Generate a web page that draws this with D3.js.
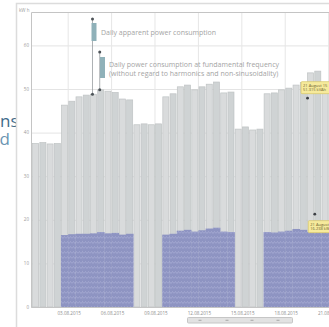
<!DOCTYPE html>
<html>
<head>
<meta charset="utf-8">
<script src="https://cdn.jsdelivr.net/npm/d3@7"></script>
<style>
  html, body { margin: 0; padding: 0; background: #fff; }
  svg { display: block; font-family: "Open Sans", "DejaVu Sans", sans-serif; }
</style>
</head>
<body>
<div id="app"></div>
<script>
// ------------------------------------------------------------
// Data (two bars per day)
// ------------------------------------------------------------
const days = ['01.08.2015', '02.08.2015', '03.08.2015', '04.08.2015', '05.08.2015',
  '06.08.2015', '07.08.2015', '08.08.2015', '09.08.2015', '10.08.2015', '11.08.2015',
  '12.08.2015', '13.08.2015', '14.08.2015', '15.08.2015', '16.08.2015', '17.08.2015',
  '18.08.2015', '19.08.2015', '20.08.2015', '21.08.2015'];

// daily apparent power consumption, kWh
const apparent = [
  37.5, 37.7, 37.4, 37.5,
  46.3, 47.2, 48.2, 48.6, 48.8, 49.8, 49.5, 49.2, 47.7, 47.5,
  41.8, 42.0, 41.8, 42.0,
  48.2, 48.9, 50.5, 50.9, 49.8, 50.5, 51.1, 51.6, 49.1, 49.3,
  40.8, 41.3, 40.6, 40.8,
  48.9, 49.1, 49.8, 50.2, 50.9, 51.5, 53.7, 54.1, 51.2, 51.0
];

// daily consumption at fundamental frequency, kWh (none on weekends)
const fundamental = [
  null, null, null, null,
  16.5, 16.7, 16.8, 16.8, 16.9, 17.2, 16.9, 17.0, 16.6, 16.8,
  null, null, null, null,
  16.6, 16.8, 17.5, 17.7, 17.3, 17.6, 18.0, 18.2, 17.3, 17.2,
  null, null, null, null,
  17.2, 17.1, 17.3, 17.5, 17.9, 17.7, 17.2, 17.4, 17.3, 17.4
];

const yTicks = [0, 10, 20, 30, 40, 50, 60];
const labelDays = ['03.08.2015', '06.08.2015', '09.08.2015', '12.08.2015',
  '15.08.2015', '18.08.2015', '21.08.2015'];

// hover tooltips shown in the screenshot
const tipSlots = [38, 39];
const tipValues = [47.9, 21.3];
const tipLines = [['21 August 15', '51.315 kVAh'], ['21 August 15', '16.238 kWh']];

// ------------------------------------------------------------
// Canvas
// ------------------------------------------------------------
const W = 329, H = 327;
const svg = d3.select('#app').append('svg')
  .attr('width', W).attr('height', H);

// page text cut off at the left edge of the screenshot
svg.append('text').attr('x', 0).attr('y', 127)
  .attr('font-size', 17).attr('fill', '#3f6b89').text('ns');
svg.append('text').attr('x', -0.5).attr('y', 145)
  .attr('font-size', 17).attr('fill', '#6b95b2').text('d');

// outer panel
svg.append('rect')
  .attr('x', 16.5).attr('y', 3.5).attr('width', 400).attr('height', 400)
  .attr('fill', '#fff').attr('stroke', '#dcdcdc').attr('stroke-width', 1.5);

const plotLeft = 31, plotTop = 12, plotBottom = 307;

// ------------------------------------------------------------
// Scales
// ------------------------------------------------------------
const slots = d3.range(apparent.length);
const x = d3.scaleBand().domain(slots).range([32, 32 + slots.length * 7.235]);
const xDay = d3.scaleBand().domain(days).range([32, 32 + slots.length * 7.235]);
const y = d3.scaleLinear().domain([0, 60]).range([plotBottom, 45.4]);

// grid
svg.append('g').selectAll('line').data(yTicks).join('line')
  .attr('x1', plotLeft).attr('x2', W)
  .attr('y1', d => y(d) + 0.5).attr('y2', d => y(d) + 0.5)
  .attr('stroke', '#e4e4e4');

svg.append('g').selectAll('line').data(labelDays).join('line')
  .attr('x1', d => xDay(d) + xDay.bandwidth() / 2)
  .attr('x2', d => xDay(d) + xDay.bandwidth() / 2)
  .attr('y1', plotTop).attr('y2', plotBottom)
  .attr('stroke', '#e6e6e6');

// ------------------------------------------------------------
// Bars
// ------------------------------------------------------------
svg.append('g').selectAll('rect').data(apparent).join('rect')
  .attr('x', (d, i) => x(i) + 0.6)
  .attr('width', x.bandwidth() - 1.2)
  .attr('y', d => y(d))
  .attr('height', d => y(0) - y(d))
  .attr('fill', (d, i) => i % 2 ? '#cfd3d4' : '#d9dbdc')
  .attr('stroke', '#bfc3c4').attr('stroke-width', 0.7);

// hatched fill for the fundamental series
const defs = svg.append('defs');
const pat = defs.append('pattern').attr('id', 'hatch')
  .attr('patternUnits', 'userSpaceOnUse').attr('width', 6).attr('height', 5);
pat.append('rect').attr('width', 6).attr('height', 5).attr('fill', '#8e94c2');
pat.append('path').attr('d', 'M0,3.5 L1.5,1.5 L3,3.5 L4.5,1.5 L6,3.5')
  .attr('fill', 'none').attr('stroke', '#a6abd3').attr('stroke-width', 0.8);

svg.append('g').selectAll('rect')
  .data(fundamental.map((v, i) => ({ v, i })).filter(d => d.v !== null))
  .join('rect')
  .attr('x', d => x(d.i))
  .attr('width', x.bandwidth() + 0.3)
  .attr('y', d => y(d.v))
  .attr('height', d => y(0) - y(d.v))
  .attr('fill', 'url(#hatch)');

// plot frame
svg.append('path')
  .attr('d', `M${W},${plotTop + 0.5}H${plotLeft + 0.5}V${plotBottom + 0.5}H${W}`)
  .attr('fill', 'none').attr('stroke', '#c4c4c4');

// ------------------------------------------------------------
// Axis labels
// ------------------------------------------------------------
svg.append('g').selectAll('text').data(yTicks).join('text')
  .attr('x', 29).attr('y', d => y(d) + 1.5)
  .attr('text-anchor', 'end').attr('font-size', 4.5).attr('fill', '#9a9a9a')
  .text(d => d);
svg.append('text').attr('x', 19).attr('y', 11.5)
  .attr('font-size', 4.5).attr('fill', '#9a9a9a').text('kW h');

svg.append('g').selectAll('text').data(labelDays).join('text')
  .attr('x', d => xDay(d) + xDay.bandwidth() / 2 + 1)
  .attr('y', 315)
  .attr('text-anchor', 'middle').attr('font-size', 4.6).attr('fill', '#8d8d8d')
  .text(d => d);

// navigator scrollbar
const nav = svg.append('g');
nav.append('rect').attr('x', 187.5).attr('y', 317.5).attr('width', 105).attr('height', 5.5)
  .attr('fill', '#e2e2e2').attr('stroke', '#c6c6c6').attr('rx', 1);
nav.selectAll('line').data([200, 227, 252, 278]).join('line')
  .attr('x1', d => d - 1.5).attr('x2', d => d + 1.5)
  .attr('y1', 320.3).attr('y2', 320.3)
  .attr('stroke', '#9a9a9a').attr('stroke-width', 0.8);

// ------------------------------------------------------------
// Callouts (legend swatches tied to bars)
// ------------------------------------------------------------
const callouts = [
  { slot: 8, top: 19, box: [91.5, 23, 5, 18], lines: ['Daily apparent power consumption'], tx: 101, ty: 35 },
  { slot: 9, top: 52, box: [100, 57, 5, 21], lines: ['Daily power consumption at fundamental frequency',
    '(without regard to harmonics and non-sinusoidality)'], tx: 109, ty: 67 }
];
callouts.forEach(c => {
  const cx = x(c.slot) + x.bandwidth() / 2 - 1;
  const g = svg.append('g');
  g.append('line').attr('x1', cx).attr('x2', cx)
    .attr('y1', c.top).attr('y2', y(apparent[c.slot]))
    .attr('stroke', '#8a8f94').attr('stroke-width', 0.7);
  g.append('rect').attr('x', c.box[0]).attr('y', c.box[1])
    .attr('width', c.box[2]).attr('height', c.box[3]).attr('fill', '#8fb1b9');
  g.selectAll('circle').data([c.top, y(apparent[c.slot])]).join('circle')
    .attr('cx', cx).attr('cy', d => d).attr('r', 1.5).attr('fill', '#4d5358');
  g.selectAll('text').data(c.lines).join('text')
    .attr('x', c.tx).attr('y', (d, i) => c.ty + i * 8.5)
    .attr('font-size', 7).attr('fill', '#a4a4a4')
    .text(d => d);
});

// ------------------------------------------------------------
// Tooltips
// ------------------------------------------------------------
tipSlots.forEach((s, k) => {
  const cx = x(s) + x.bandwidth() / 2 - 3;
  const cy = y(tipValues[k]);
  svg.append('circle').attr('cx', cx).attr('cy', cy).attr('r', 1.4).attr('fill', '#3c3f44');
  const bx = cx - 6.5, by = k === 0 ? cy - 16.5 : cy + 6.5;
  svg.append('rect').attr('x', bx).attr('y', by).attr('width', 40).attr('height', 12)
    .attr('fill', '#f6ea9c').attr('stroke', '#d9c766').attr('stroke-width', 0.7).attr('rx', 1);
  svg.append('g').selectAll('text').data(tipLines[k]).join('text')
    .attr('x', bx + 2).attr('y', (d, i) => by + 5 + i * 4.8)
    .attr('font-size', 4).attr('fill', '#6b6230')
    .text(d => d);
});
</script>
</body>
</html>
